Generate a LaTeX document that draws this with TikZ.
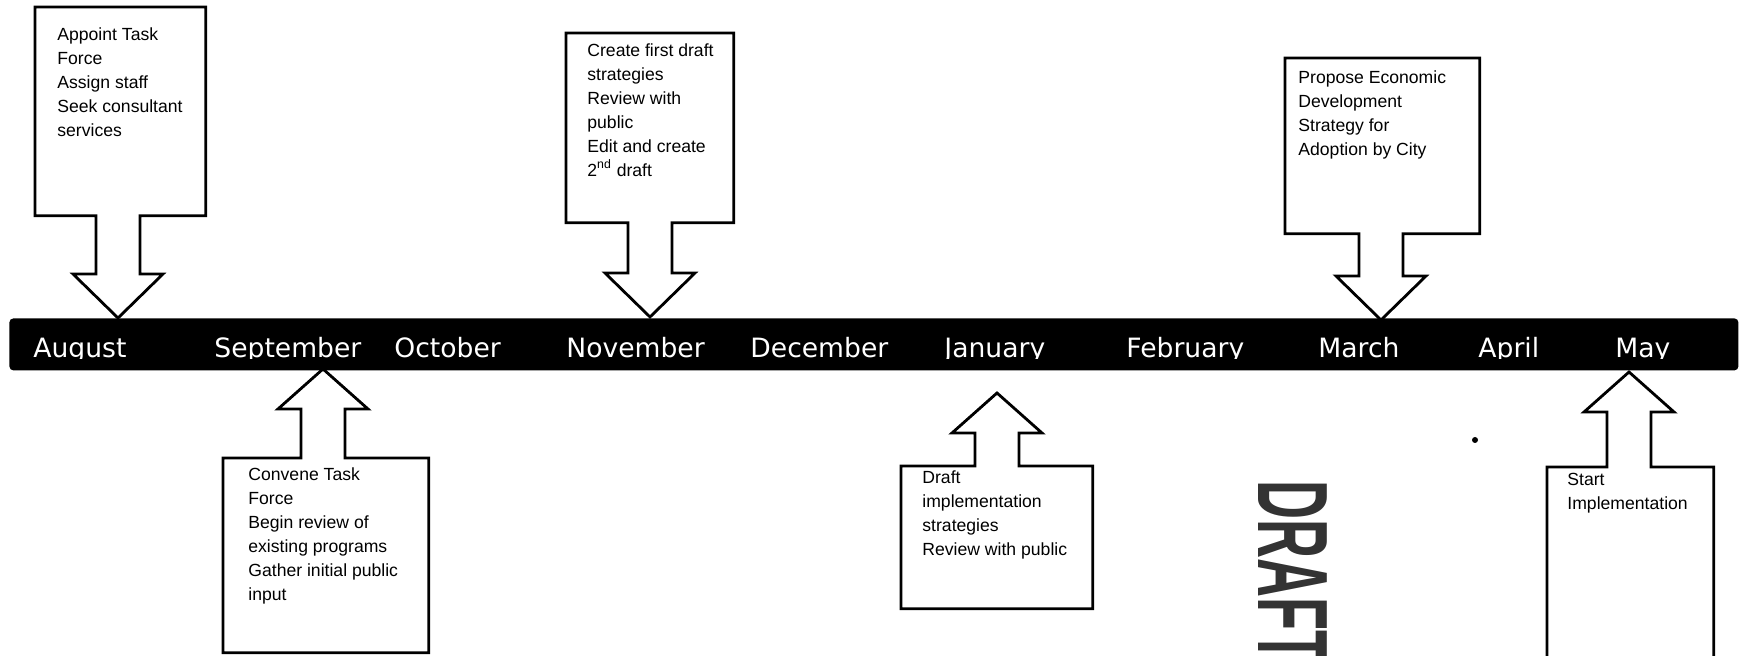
\documentclass[tikz,border=0pt]{standalone}
\usepackage{fontspec}
\setmainfont{Liberation Sans}
\newfontfamily\monthfont{DejaVu Sans}
\usetikzlibrary{calc,positioning}

\begin{document}
\begin{tikzpicture}[x=0.5pt,y=-0.5pt,
   bar/.style={fill=black, rounded corners=2pt, inner sep=0pt, anchor=north west},
   month/.style={text=white, font=\monthfont\fontsize{13.3}{16}\selectfont, anchor=base west, inner sep=0pt},
   box/.style={inner sep=0pt, anchor=north west},
   note/.style={font=\fontsize{8.8}{12}\selectfont, align=left, inner sep=0pt},
   outline/.style={draw=black, line width=1.4pt, fill=white, line join=miter}]
\useasboundingbox (0,0) rectangle (1740,656);

% the time line
\node[bar, minimum width=864.5pt, minimum height=26pt] (bar) at (9,318) {};
\begin{scope}
  \clip (0,318) rectangle (1740,359);
  \foreach \m/\x in {August/33, September/214, October/394, November/566, December/750,
                     January/944, February/1126, March/1318, April/1478, May/1615}
    \node[month] (m\m) at (\x,358) {\m};
\end{scope}

% arrow tips
\coordinate (taug) at (118,318);
\coordinate (tnov) at (650,317);
\coordinate (tmar) at (1381,320);
\coordinate (tsep) at (323,369);
\coordinate (tjan) at (997,393);
\coordinate (tmay) at (1629,372);

% boxes
\node[box, minimum width=85pt, minimum height=104pt] (aug) at (35,7) {};
\node[box, minimum width=83.5pt, minimum height=94.5pt] (nov) at (566,33) {};
\node[box, minimum width=97pt, minimum height=87.5pt] (mar) at (1285,58) {};
\node[box, minimum width=102.5pt, minimum height=97pt] (sep) at (223,458) {};
\node[box, minimum width=95.5pt, minimum height=71pt] (jan) at (901,466) {};
\node[box, minimum width=83pt, minimum height=110pt] (may) at (1547,467) {};

\foreach \b/\t in {aug/taug, nov/tnov, mar/tmar}
  \draw[outline] (\b.north west) -- (\b.north east) -- (\b.south east)
     -- ($(\t |- \b.south)+(22,0)$) -- ($(\t)+(22,-44)$) -- ($(\t)+(45,-44)$) -- (\t)
     -- ($(\t)+(-45,-44)$) -- ($(\t)+(-22,-44)$) -- ($(\t |- \b.south)+(-22,0)$)
     -- (\b.south west) -- cycle;
\foreach \b/\t in {sep/tsep, jan/tjan, may/tmay}
  \draw[outline] (\b.south west) -- (\b.south east) -- (\b.north east)
     -- ($(\t |- \b.north)+(22,0)$) -- ($(\t)+(22,40)$) -- ($(\t)+(45,40)$) -- (\t)
     -- ($(\t)+(-45,40)$) -- ($(\t)+(-22,40)$) -- ($(\t |- \b.north)+(-22,0)$)
     -- (\b.north west) -- cycle;

% texts
\node[note, below right=10pt and 11pt of aug.north west] (augtxt)
  {Appoint Task\\Force\\Assign staff\\Seek consultant\\services};
\node[note, below right=5pt and 10.5pt of nov.north west] (novtxt)
  {Create first draft\\strategies\\Review with\\public\\Edit and create\\2\textsuperscript{nd} draft};
\node[note, below right=6pt and 6.5pt of mar.north west] (martxt)
  {Propose Economic\\Development\\Strategy for\\Adoption by City};
\node[note, below right=4.5pt and 12.5pt of sep.north west] (septxt)
  {Convene Task\\Force\\Begin review of\\existing programs\\Gather initial public\\input};
\node[note, below right=2pt and 10.5pt of jan.north west] (jantxt)
  {Draft\\implementation\\strategies\\Review with public};
\node[note, below right=3pt and 10pt of may.north west] (maytxt)
  {Start\\Implementation};

% stamp
\node[rotate=-90, text=black!80, inner sep=0pt, font=\bfseries\fontsize{50}{50}\selectfont] (stamp)
  at (1293,572) {\scalebox{0.54}[1]{DRAFT}};
\node[circle, fill=black, inner sep=0pt, minimum size=3pt] (speck) at (1475,440) {};
\end{tikzpicture}
\end{document}
